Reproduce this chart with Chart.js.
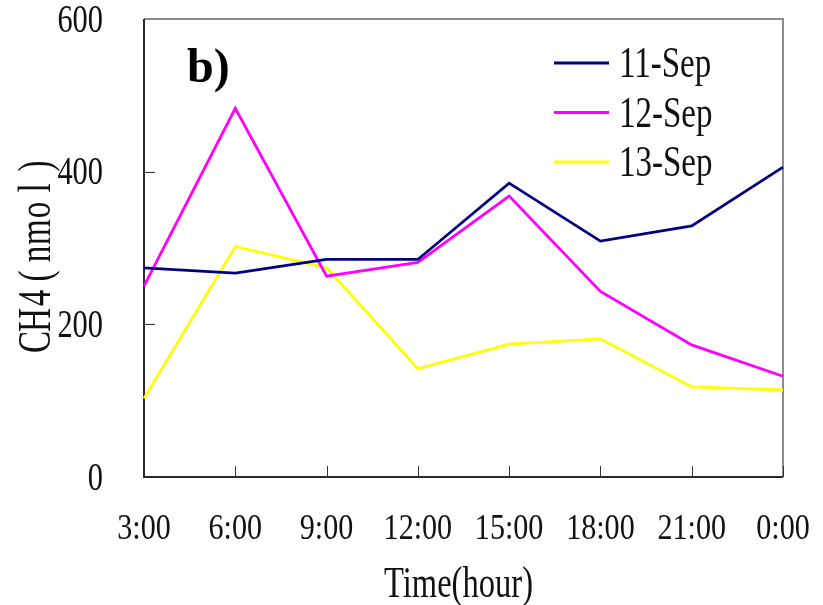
<!DOCTYPE html>
<html>
<head>
<meta charset="utf-8">
<title>CH4 (nmol) by time of day</title>
<script src="https://cdn.jsdelivr.net/npm/chart.js@4.4.1/dist/chart.umd.min.js"></script>
<style>
  html, body { margin: 0; padding: 0; background: #ffffff; }
  #wrap { width: 823px; height: 605px; position: relative; }
</style>
</head>
<body>
<div id="wrap"><canvas id="chart" width="823" height="605"></canvas></div>
<script>
// Sampling times (categories along the x axis)
const times = ["3:00", "6:00", "9:00", "12:00", "15:00", "18:00", "21:00", "0:00"];

// CH4 concentration (nmol) per day
const sep11 = [274, 267, 285, 285, 385, 309, 329, 406];
const sep12 = [250, 483, 263, 281, 368, 243, 173, 132];
const sep13 = [103, 302, 274, 142, 174, 181, 118, 114];

const seriesNames = ["11-Sep", "12-Sep", "13-Sep"];
const seriesColors = ["#000080", "#ff00ff", "#ffff00"];

// Value axis
const yTicks = [0, 200, 400, 600];
const yTitle = "CH4(nmol)";
const xTitle = "Time(hour)";
const panelTag = "b)";

const SERIF = '"Liberation Serif", "Times New Roman", serif';

// Draw text squeezed horizontally (narrow serif look)
function narrowText(ctx, text, x, y, font, sx, align, baseline) {
  ctx.save();
  ctx.translate(x, y);
  ctx.scale(sx, 1);
  ctx.font = font;
  ctx.textAlign = align;
  ctx.textBaseline = baseline || "alphabetic";
  ctx.fillText(text, 0, 0);
  ctx.restore();
}

// Frame, inward tick marks and all labelling
const decorations = {
  id: "decorations",
  beforeDatasetsDraw(chart) {
    const { ctx, chartArea: a, scales } = chart;
    ctx.save();
    // top and right edges in grey
    ctx.strokeStyle = "#8c8c8c";
    ctx.lineWidth = 2;
    ctx.beginPath();
    ctx.moveTo(a.left, a.top);
    ctx.lineTo(a.right, a.top);
    ctx.lineTo(a.right, a.bottom);
    ctx.stroke();
    // left and bottom axes in dark grey
    ctx.strokeStyle = "#2a2a2a";
    ctx.beginPath();
    ctx.moveTo(a.left, a.top);
    ctx.lineTo(a.left, a.bottom);
    ctx.lineTo(a.right, a.bottom);
    ctx.stroke();
    // inward ticks
    ctx.lineWidth = 1;
    ctx.strokeStyle = "#333333";
    ctx.beginPath();
    for (let i = 1; i < times.length; i++) {
      const px = Math.round(scales.x.getPixelForValue(i)) + 0.5;
      ctx.moveTo(px, a.bottom);
      ctx.lineTo(px, a.bottom - 11);
    }
    yTicks.forEach(v => {
      if (v === 0 || v === 600) return;
      const py = Math.round(scales.y.getPixelForValue(v)) + 0.5;
      ctx.moveTo(a.left, py);
      ctx.lineTo(a.left + 11, py);
    });
    ctx.stroke();
    ctx.restore();
  },
  afterDraw(chart) {
    const { ctx, chartArea: a, scales } = chart;
    ctx.save();
    ctx.fillStyle = "#111111";

    // y tick labels
    yTicks.forEach(v => {
      const py = scales.y.getPixelForValue(v);
      narrowText(ctx, String(v), a.left - 41, py + 2, "40px " + SERIF, 0.76, "right", "middle");
    });

    // x tick labels
    times.forEach((t, i) => {
      const px = scales.x.getPixelForValue(i);
      narrowText(ctx, t, px, 539, "35px " + SERIF, 0.86, "center", "alphabetic");
    });

    // x axis title
    narrowText(ctx, xTitle, (a.left + a.right) / 2 - 5, 597, "44px " + SERIF, 0.74, "center", "alphabetic");

    // y axis title, rotated, letters spread evenly
    const chars = Array.from(yTitle);
    const step = 22;
    const mid = (a.top + a.bottom) / 2 + 6;
    const start = mid + step * (chars.length - 1) / 2;
    chars.forEach((ch, i) => {
      ctx.save();
      ctx.translate(50, start - i * step);
      ctx.rotate(-Math.PI / 2);
      ctx.scale(0.72, 1);
      ctx.font = "46px " + SERIF;
      ctx.textAlign = "center";
      ctx.textBaseline = "alphabetic";
      ctx.fillText(ch, 0, 0);
      ctx.restore();
    });

    // panel tag
    ctx.font = "bold 48px " + SERIF;
    ctx.textAlign = "left";
    ctx.textBaseline = "alphabetic";
    ctx.fillStyle = "#000000";
    ctx.fillText(panelTag, 187, 82);

    // legend inside the plot
    chart.data.datasets.forEach((ds, i) => {
      const ly = 63 + i * 49.5;
      ctx.strokeStyle = ds.borderColor;
      ctx.lineWidth = 3;
      ctx.beginPath();
      ctx.moveTo(554, ly);
      ctx.lineTo(609, ly);
      ctx.stroke();
      ctx.fillStyle = "#111111";
      narrowText(ctx, ds.label, 619, ly + 14, "44px " + SERIF, 0.75, "left", "alphabetic");
    });
    ctx.restore();
  }
};

const seriesValues = [sep11, sep12, sep13];

new Chart(document.getElementById("chart"), {
  type: "line",
  data: {
    labels: times,
    datasets: seriesValues.map((vals, i) => ({
      label: seriesNames[i],
      data: vals,
      borderColor: seriesColors[i],
      backgroundColor: seriesColors[i],
      borderWidth: 2.8,
      pointRadius: 0,
      tension: 0,
      fill: false
    }))
  },
  options: {
    responsive: false,
    animation: false,
    layout: { padding: { left: 144, right: 40, top: 19, bottom: 128 } },
    plugins: {
      legend: { display: false },
      tooltip: { enabled: false },
      title: { display: false }
    },
    scales: {
      x: {
        type: "category",
        offset: false,
        display: false
      },
      y: {
        min: 0,
        max: 600,
        display: false,
        ticks: { stepSize: 200 }
      }
    }
  },
  plugins: [decorations]
});
</script>
</body>
</html>
